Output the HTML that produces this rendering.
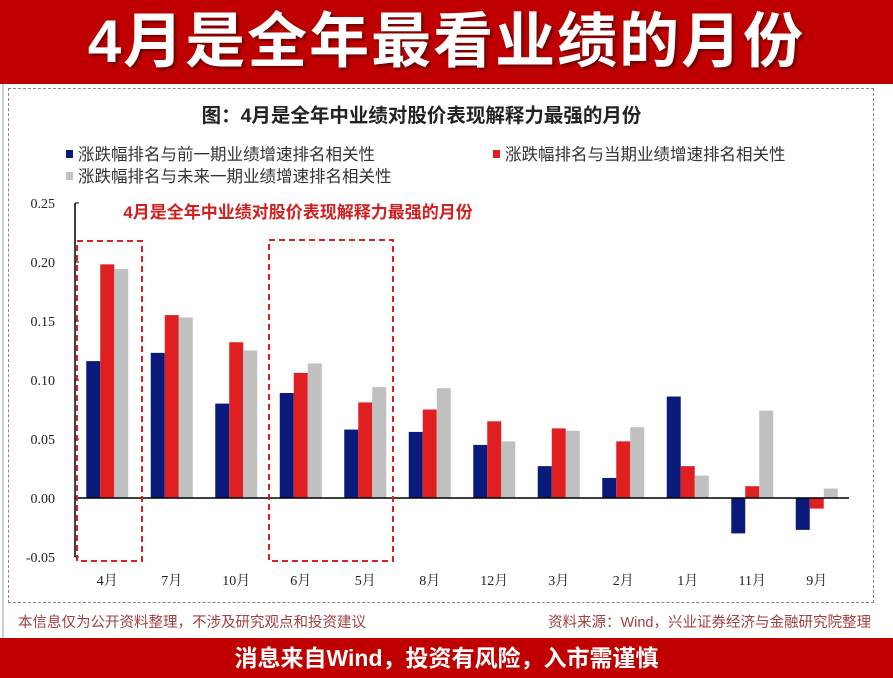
<!DOCTYPE html>
<html><head><meta charset="utf-8"><style>
body{margin:0;width:893px;height:678px;overflow:hidden;background:#fff;font-family:"Liberation Sans","Noto Sans CJK SC",sans-serif;position:relative}
.hdr{position:absolute;left:0;top:0;width:893px;height:84px;background:#c00000;color:#fff;font-weight:bold;font-size:60px;text-align:center;line-height:84px;letter-spacing:2px;text-shadow:2px 2px 3px #600}
.ftr{position:absolute;left:0;top:638px;width:893px;height:40px;background:#c00000;color:#fff;font-weight:bold;font-size:23px;text-align:center;line-height:40px}
.box{position:absolute;left:8px;top:88px;width:864px;height:513px;border:1px dashed #888}
.lb{position:absolute;left:2px;top:84px;width:2px;height:554px;background:#c8d0e0}
.title{position:absolute;left:-25px;width:893px;top:99px;text-align:center;font-weight:bold;font-size:19.5px;color:#222}
.lg{position:absolute;font-size:16.5px;color:#333}
.lg i{display:inline-block;width:7px;height:8px;margin-right:5px;vertical-align:2px}
.note{position:absolute;top:611px;font-size:14.5px;color:#a04040}
</style></head><body>
<div class="hdr">4月是全年最看业绩的月份</div>
<div class="lb"></div>
<div class="box"></div>
<div class="title">图：4月是全年中业绩对股价表现解释力最强的月份</div>
<div class="lg" style="left:66px;top:141px"><i style="background:#0a1a7a"></i>涨跌幅排名与前一期业绩增速排名相关性</div>
<div class="lg" style="left:493px;top:141px"><i style="background:#e02020"></i>涨跌幅排名与当期业绩增速排名相关性</div>
<div class="lg" style="left:66px;top:163px"><i style="background:#c0c0c0"></i>涨跌幅排名与未来一期业绩增速排名相关性</div>
<svg id="chart" width="893" height="678" style="position:absolute;left:0;top:0"></svg>
<div class="note" style="left:18px">本信息仅为公开资料整理，不涉及研究观点和投资建议</div>
<div class="note" style="right:22px">资料来源：Wind，兴业证券经济与金融研究院整理</div>
<div class="ftr">消息来自Wind，投资有风险，入市需谨慎</div>
<script>
const categories=["4月","7月","10月","6月","5月","8月","12月","3月","2月","1月","11月","9月"];
const seriesPrev=[0.116,0.123,0.080,0.089,0.058,0.056,0.045,0.027,0.017,0.086,-0.030,-0.027];
const seriesCur=[0.198,0.155,0.132,0.106,0.081,0.075,0.065,0.059,0.048,0.027,0.010,-0.009];
const seriesNext=[0.194,0.153,0.125,0.114,0.094,0.093,0.048,0.057,0.060,0.019,0.074,0.008];
const yTicks=[0.25,0.20,0.15,0.10,0.05,0.00,-0.05];
const yLabels=["0.25","0.20","0.15","0.10","0.05","0.00","-0.05"];
const NS="http://www.w3.org/2000/svg";
const svg=document.getElementById('chart');
const x0=75,x1=849,band=(x1-x0)/categories.length,bw=14;
const y=v=>498-v*1180;
const xc=i=>x0+band*(i+0.5);
function mk(t,a){const e=document.createElementNS(NS,t);for(const k in a)e.setAttribute(k,a[k]);svg.appendChild(e);return e;}
const ax=mk('line',{x1:x0,y1:y(0.25),x2:x0,y2:y(-0.05),stroke:'#000','stroke-width':1.5});


yTicks.forEach((v,i)=>{
 const t=mk('text',{x:55,y:y(v)+5,'text-anchor':'end','font-size':14,'font-family':'Liberation Serif,serif',fill:'#222'});
 t.textContent=yLabels[i];
 
 
 const tk=mk('line',{x1:x0,y1:y(v),x2:x0+4,y2:y(v),stroke:'#000'});
 
 
});
const series=[[seriesPrev,'#0a1a7a'],[seriesCur,'#e02020'],[seriesNext,'#c0c0c0']];
categories.forEach((c,i)=>{
 series.forEach(([s,col],j)=>{
  const v=s[i];const top=Math.min(y(v),y(0));
  const r=mk('rect',{x:xc(i)-21+j*bw,y:top,width:bw,height:Math.abs(y(v)-y(0)),fill:col});
  
  
 });
 const t=mk('text',{x:xc(i),y:585,'text-anchor':'middle','font-size':14,'font-family':'Liberation Serif,Noto Serif CJK SC,serif',fill:'#222'});
 t.textContent=c;
 
 
});
const zl=mk('line',{x1:x0,y1:y(0),x2:x1,y2:y(0),stroke:'#000','stroke-width':1.5});


const hb1=mk('rect',{x:77,y:241,width:65,height:320,fill:'none',stroke:'#e02020','stroke-width':2,'stroke-dasharray':'6,4'});


const hb2=mk('rect',{x:269,y:240,width:124,height:321,fill:'none',stroke:'#e02020','stroke-width':2,'stroke-dasharray':'6,4'});


const an=mk('text',{x:298,y:218,'text-anchor':'middle','font-size':17,'font-weight':'bold',fill:'#d02020','font-family':'Liberation Sans,Noto Sans CJK SC,sans-serif'});
an.textContent='4月是全年中业绩对股价表现解释力最强的月份';


</script>
</body></html>
